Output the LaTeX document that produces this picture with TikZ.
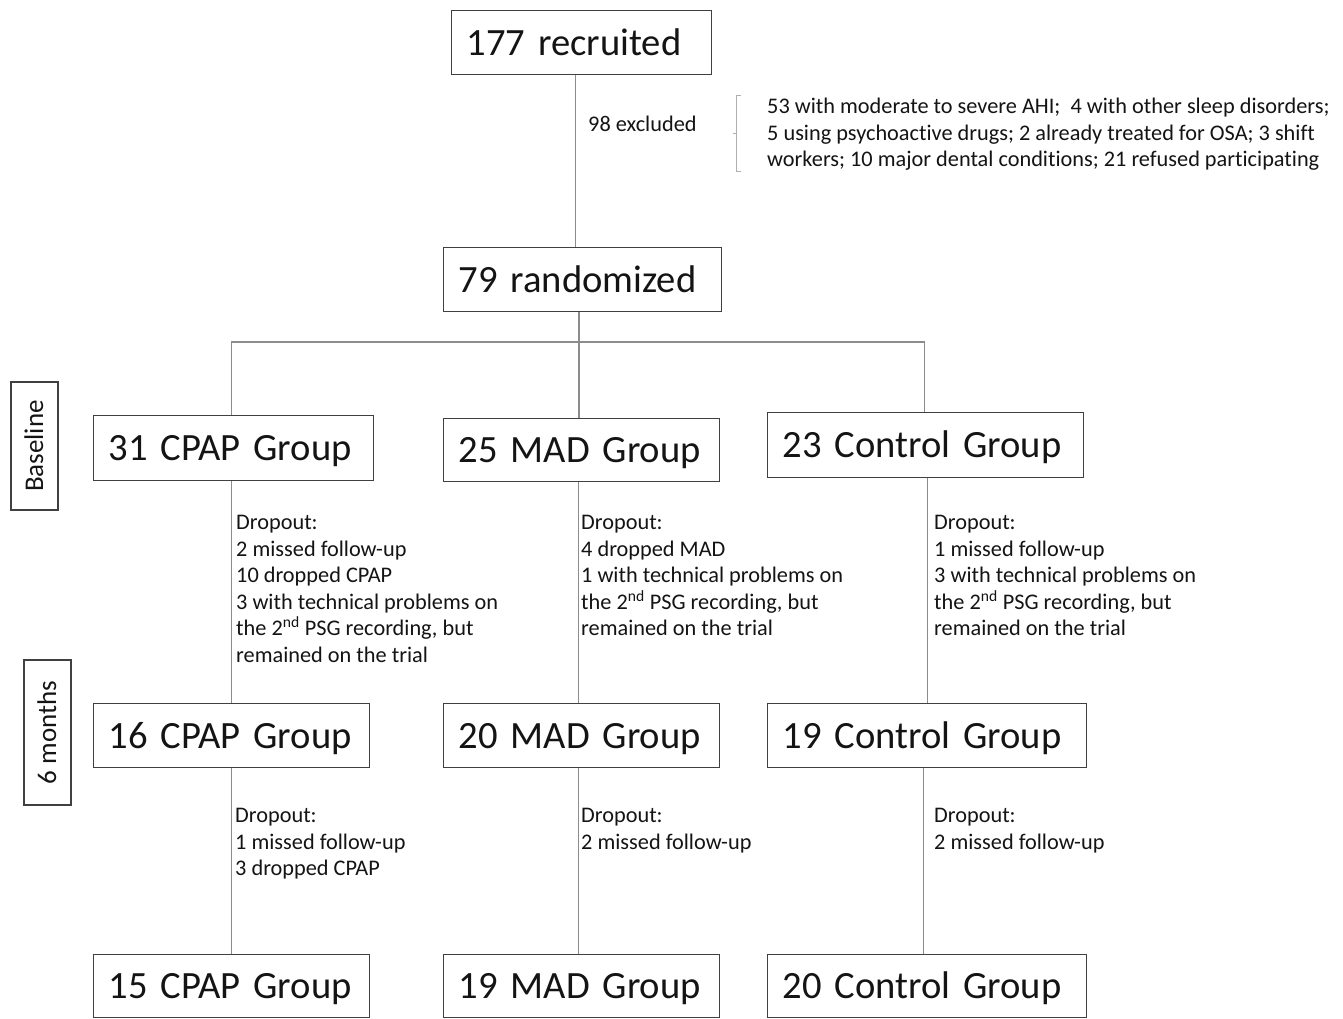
\documentclass[tikz,border=0pt]{standalone}
\usepackage{fontspec}
\setmainfont[Ligatures=NoCommon]{Carlito}
\definecolor{boxc}{RGB}{64,64,64}
\definecolor{linec}{RGB}{140,140,140}
\definecolor{txt}{RGB}{20,20,20}
\definecolor{brc}{RGB}{175,175,175}
\begin{document}
\begin{tikzpicture}[x=1pt,y=-1pt,
 bigbox/.style={draw=boxc, line width=1.4pt, font=\fontsize{38.6}{46}\selectfont, text=txt, inner xsep=15pt, inner ysep=0pt, align=left, minimum height=64pt, text height=25pt, text depth=0pt, anchor=north west},
 side/.style={draw=boxc, line width=1.4pt, rotate=90, font=\fontsize{27}{30}\selectfont, text=txt, inner sep=0pt, text height=17pt, text depth=0pt},
 conn/.style={draw=linec, line width=1.3pt},
 note/.style={font=\fontsize{22.3}{26.5}\selectfont, text=txt, align=left, inner sep=0pt, anchor=north west}]
\useasboundingbox (0,0) rectangle (1343,1019);
\fill[white] (0,0) rectangle (1343,1019);

% main boxes
\node[bigbox, text width=230pt] (rec) at (451,10) {\mbox{177 recruited}};
\node[bigbox, text width=248pt] (rand) at (443,247) {\mbox{79 randomized}};
\node[bigbox, text width=250pt, minimum height=65pt] (g1) at (93,415) {\mbox{31 CPAP Group}};
\node[bigbox, text width=246pt, minimum height=63pt] (g2) at (443,418) {\mbox{25 MAD Group}};
\node[bigbox, text width=286pt, minimum height=65pt] (g3) at (767,412) {\mbox{23 Control Group}};
\node[bigbox, text width=246pt] (h1) at (93,703) {\mbox{16 CPAP Group}};
\node[bigbox, text width=246pt] (h2) at (443,703) {\mbox{20 MAD Group}};
\node[bigbox, text width=289pt] (h3) at (767,703) {\mbox{19 Control Group}};
\node[bigbox, text width=246pt, minimum height=63pt] (k1) at (93,954) {\mbox{15 CPAP Group}};
\node[bigbox, text width=246pt, minimum height=63pt] (k2) at (443,954) {\mbox{19 MAD Group}};
\node[bigbox, text width=289pt, minimum height=63pt] (k3) at (767,954) {\mbox{20 Control Group}};

% side labels
\node[side, minimum width=128pt, minimum height=47pt] (base) at (34.5,446) {Baseline};
\node[side, minimum width=145pt, minimum height=47pt] (six) at (47.5,732.5) {6 months};

% connectors
\coordinate (split) at (579,342);
\draw[conn] ([xshift=-6pt]rec.south) -- ([xshift=-6pt]rec.south |- rand.north);
\draw[conn] (rand.south -| split) -- (split);
\draw[conn] ([xshift=-2pt]g1.north) |- (split) -| ([xshift=-1pt]g3.north);
\draw[conn] (split) -- (split |- g2.north);
\draw[conn] (h1.north) -- (h1.north |- g1.south);
\draw[conn] ([xshift=-3pt]h2.north) -- ([xshift=-3pt]h2.north |- g2.south);
\draw[conn] (h3.north) -- (h3.north |- g3.south);
\draw[conn] (k1.north) -- (k1.north |- h1.south);
\draw[conn] ([xshift=-3pt]k2.north) -- ([xshift=-3pt]k2.north |- h2.south);
\draw[conn] ([xshift=-4pt]k3.north) -- ([xshift=-4pt]k3.north |- h3.south);

% exclusion
\node[note] (exn) at (588,116) {98 excluded};
\node[note] (exl) at (767,98) {53 with moderate to severe AHI;\ \ 4 with other sleep disorders;\\5 using psychoactive drugs; 2 already treated for OSA; 3 shift\\workers; 10 major dental conditions; 21 refused participating};
\coordinate (brt) at (741,96);
\coordinate (brb) at (741,172);
\draw[draw=brc, line width=1pt] (brt) -- ++(-5,0) |- (brb);
\draw[draw=brc, line width=1pt] (736,134) -- (733,134);

% dropout notes
\node[note] (d1) at (236,515) {Dropout:\\2 missed follow-up\\10 dropped CPAP\\3 with technical problems on\\the 2\textsuperscript{nd} PSG recording, but\\remained on the trial};
\node[note] (d2) at (581,515) {Dropout:\\4 dropped MAD\\1 with technical problems on\\the 2\textsuperscript{nd} PSG recording, but\\remained on the trial};
\node[note] (d3) at (934,515) {Dropout:\\1 missed follow-up\\3 with technical problems on\\the 2\textsuperscript{nd} PSG recording, but\\remained on the trial};
\node[note] (e1) at (235,808) {Dropout:\\1 missed follow-up\\3 dropped CPAP};
\node[note] (e2) at (581,808) {Dropout:\\2 missed follow-up};
\node[note] (e3) at (934,808) {Dropout:\\2 missed follow-up};
\end{tikzpicture}
\end{document}
